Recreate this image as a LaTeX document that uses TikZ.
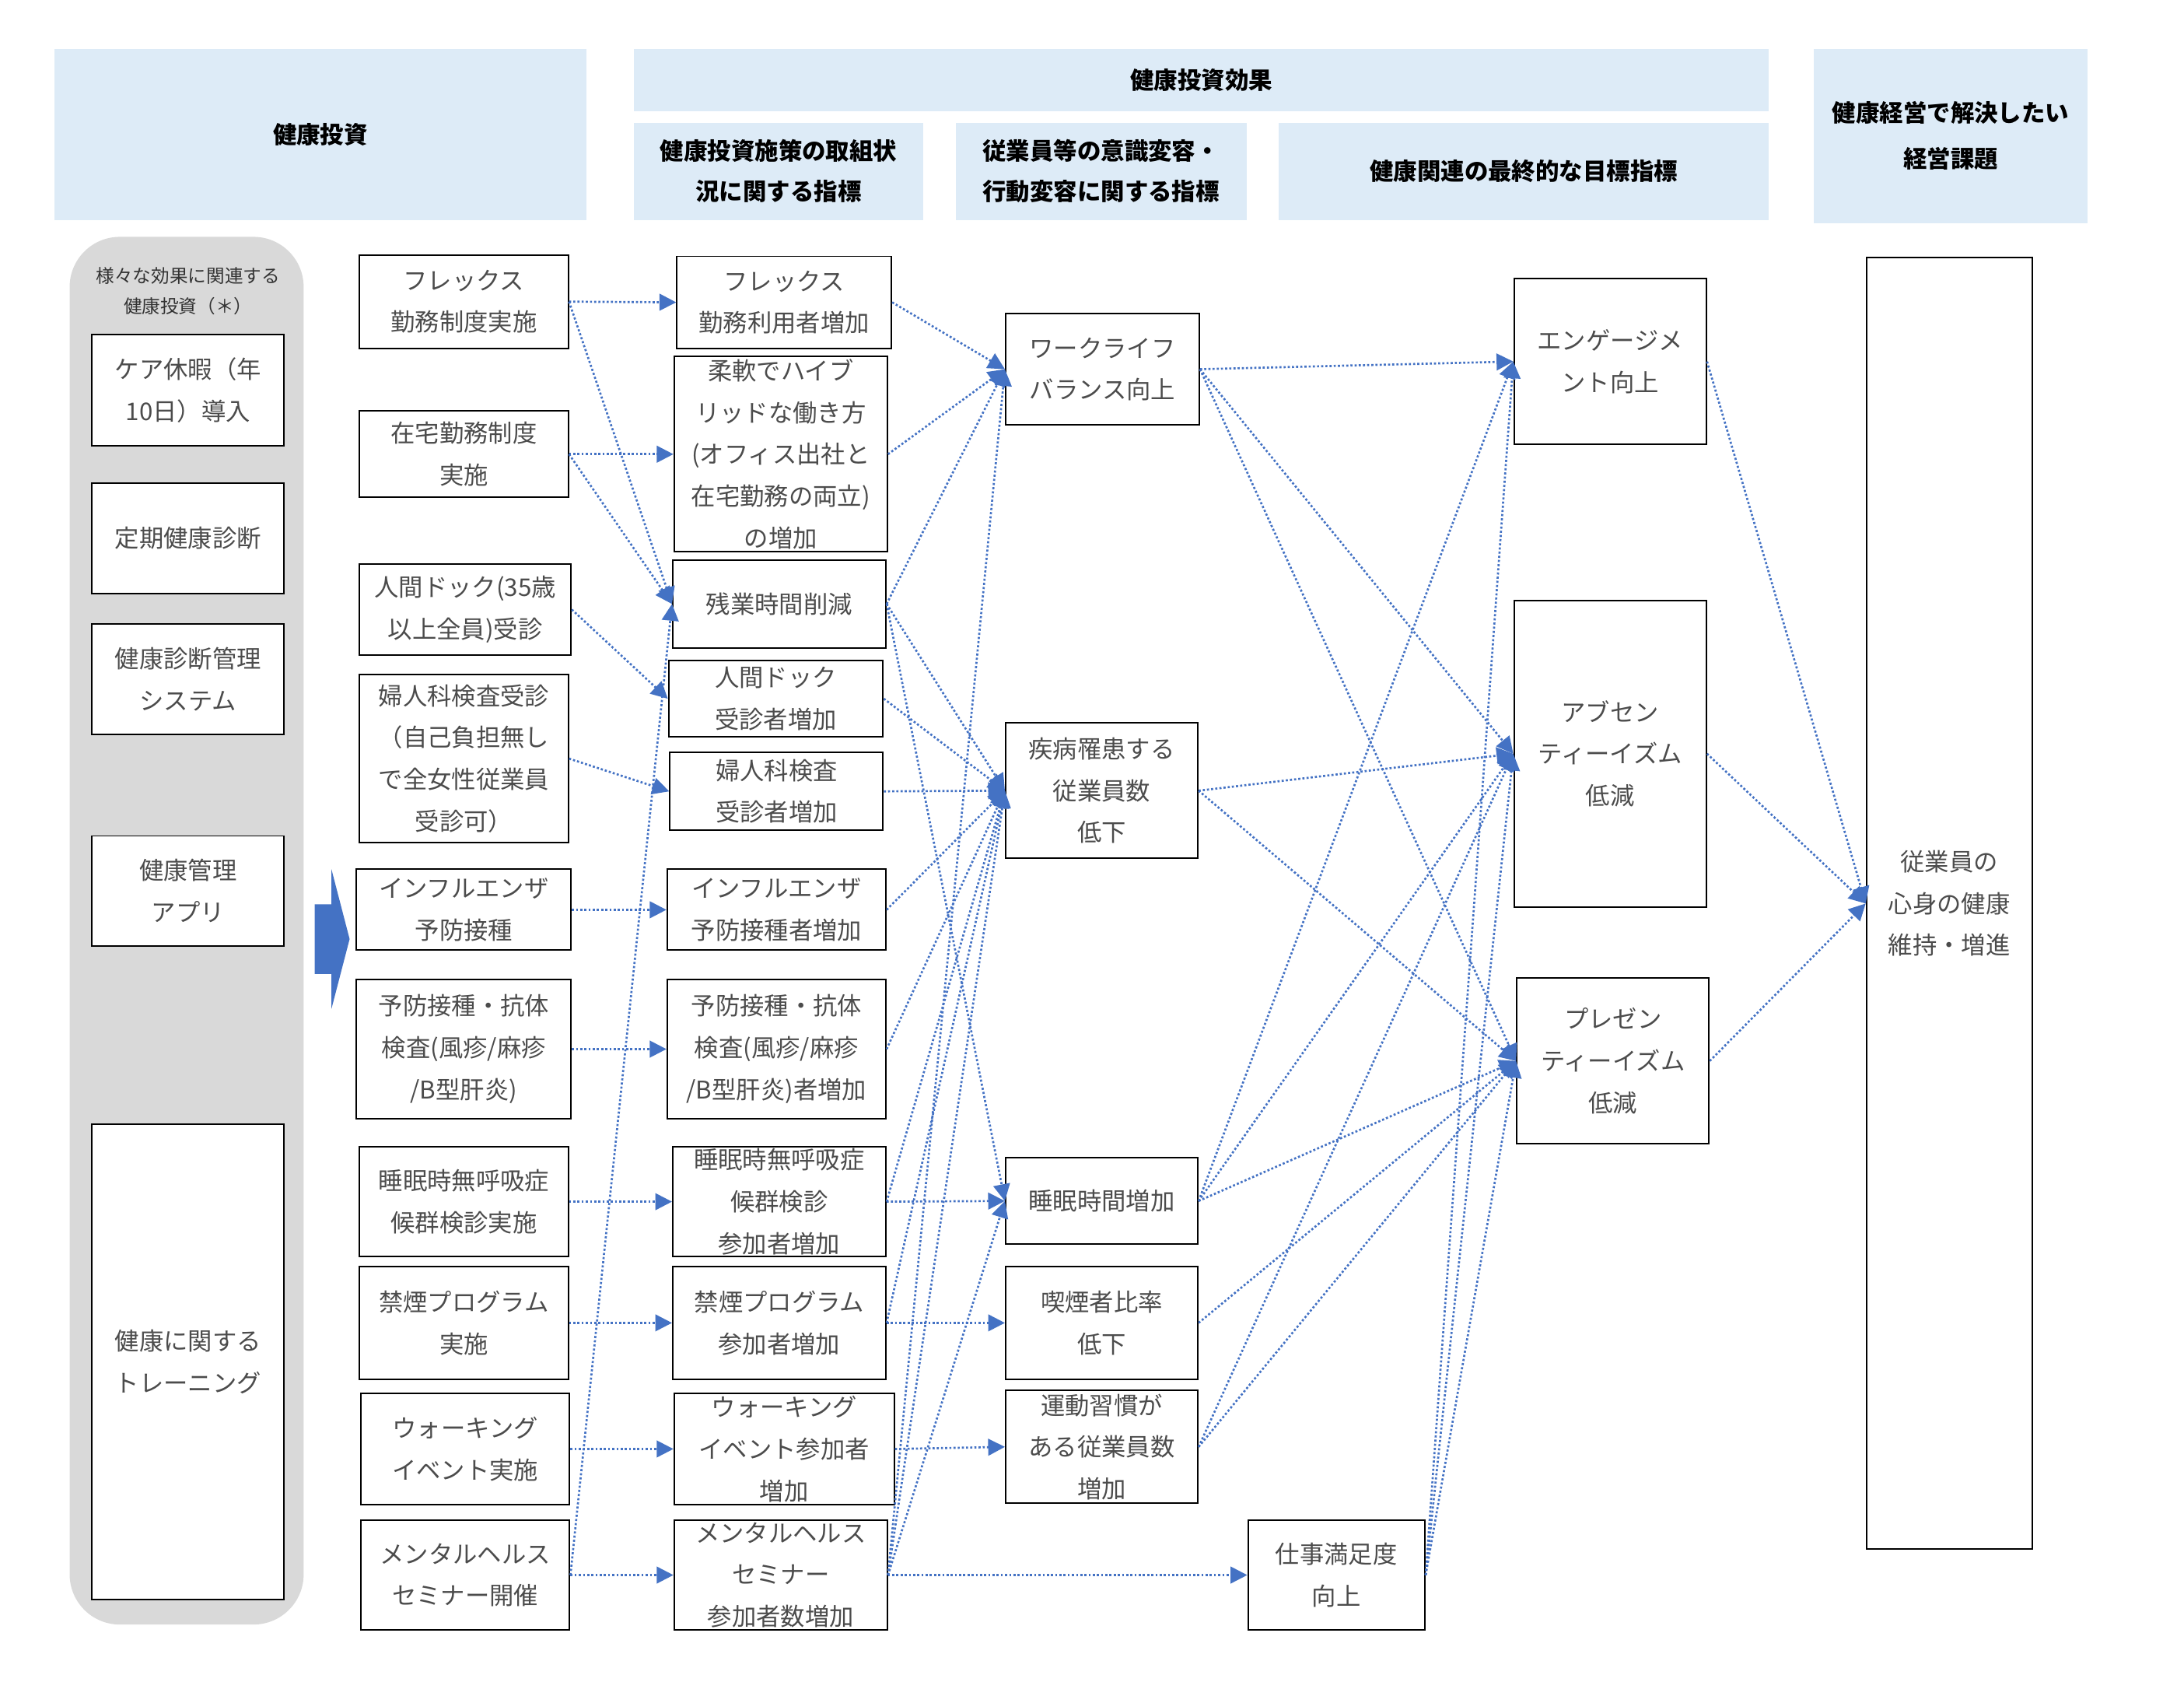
\documentclass[tikz,border=0pt]{standalone}
\usepackage{fontspec}
\setmainfont{Noto Sans CJK JP}
\usetikzlibrary{arrows.meta}
\definecolor{hdr}{HTML}{DDEBF7}
\definecolor{panel}{HTML}{D9D9D9}
\definecolor{lnk}{HTML}{4472C4}
\newcommand{\boxnode}[6]{\node[bx, minimum width=#4pt, minimum height=#5pt] (#1) at (#2,#3) {#6};}
\newcommand{\hdrnode}[6]{\node[hd, minimum width=#4pt, minimum height=#5pt] (#1) at (#2,#3) {#6};}
\tikzset{
  bx/.style={draw=black, line width=1.1pt, fill=white, align=center, inner sep=0pt,
    text=black!70, font=\fontsize{17.5}{30}\selectfont},
  hd/.style={fill=hdr, align=center, inner sep=0pt, text=black,
    font=\fontsize{17}{29}\selectfont\bfseries},
  conn/.style={draw=lnk, line width=1.5pt, dash pattern=on 1.5pt off 1.5pt,
    -{Triangle[length=12pt,width=12pt,fill=lnk]}}
}
\begin{document}
\begin{tikzpicture}[x=1pt,y=-1pt]
\useasboundingbox (0,0) rectangle (1568,1207);
\fill[white] (0,0) rectangle (1568,1207);
% headers
\hdrnode{h1}{230}{96.5}{382}{123}{健康投資}
\hdrnode{h2}{862.5}{57.5}{815}{45}{健康投資効果}
\hdrnode{h3}{559}{123}{208}{70}{健康投資施策の取組状\\況に関する指標}
\hdrnode{h4}{790.5}{123}{209}{70}{従業員等の意識変容・\\行動変容に関する指標}
\hdrnode{h5}{1094}{123}{352}{70}{健康関連の最終的な目標指標}
\node[hd, minimum width=197pt, minimum height=125pt, font=\fontsize{17}{33}\selectfont\bfseries] (h6) at (1400.5,97.5) {健康経営で解決したい\\経営課題};
% grey panel
\node[fill=panel, rounded corners=36pt, minimum width=168pt, minimum height=996pt, inner sep=0pt] (panel) at (134,668) {};
\node[align=center, inner sep=0pt, text=black!80, font=\fontsize{13.2}{22}\selectfont] (ptext) at (135,209) {様々な効果に関連する\\健康投資（＊）};
% left column
\boxnode{l1}{135}{280}{138}{80}{ケア休暇（年\\10日）導入}
\boxnode{l2}{135}{386.5}{138}{79}{定期健康診断}
\boxnode{l3}{135}{487.5}{138}{79}{健康診断管理\\システム}
\boxnode{l4}{135}{639.5}{138}{79}{健康管理\\アプリ}
\boxnode{l5}{135}{977.5}{138}{341}{健康に関する\\トレーニング}
% big arrow
\fill[lnk] (226,649) -- (238,649) -- (238,624) -- (251,674) -- (238,724) -- (238,699) -- (226,699) -- cycle;
% column 2
\boxnode{c2a}{333}{216.5}{150}{67}{フレックス\\勤務制度実施}
\boxnode{c2b}{333}{326}{150}{62}{在宅勤務制度\\実施}
\boxnode{c2c}{334}{437.5}{152}{65}{人間ドック(35歳\\以上全員)受診}
\boxnode{c2d}{333}{544.5}{150}{121}{婦人科検査受診\\（自己負担無し\\で全女性従業員\\受診可）}
\boxnode{c2e}{333}{653}{154}{58}{インフルエンザ\\予防接種}
\boxnode{c2f}{333}{753}{154}{100}{予防接種・抗体\\検査(風疹/麻疹\\/B型肝炎)}
\boxnode{c2g}{333}{862.5}{150}{79}{睡眠時無呼吸症\\候群検診実施}
\boxnode{c2h}{333}{949.5}{150}{81}{禁煙プログラム\\実施}
\boxnode{c2i}{334}{1040}{150}{80}{ウォーキング\\イベント実施}
\boxnode{c2j}{334}{1130.5}{150}{79}{メンタルヘルス\\セミナー開催}
% column 3
\boxnode{c3a}{563}{217}{154}{66}{フレックス\\勤務利用者増加}
\boxnode{c3b}{560.5}{326}{153}{140}{柔軟でハイブ\\リッドな働き方\\(オフィス出社と\\在宅勤務の両立)\\の増加}
\boxnode{c3c}{559.5}{433.5}{153}{63}{残業時間削減}
\boxnode{c3d}{557}{501.5}{154}{55}{人間ドック\\受診者増加}
\boxnode{c3e}{557.5}{568}{153}{56}{婦人科検査\\受診者増加}
\boxnode{c3f}{557.5}{653}{157}{58}{インフルエンザ\\予防接種者増加}
\boxnode{c3g}{557.5}{753}{157}{100}{予防接種・抗体\\検査(風疹/麻疹\\/B型肝炎)者増加}
\boxnode{c3h}{559.5}{862.5}{153}{79}{睡眠時無呼吸症\\候群検診\\参加者増加}
\boxnode{c3i}{559.5}{949.5}{153}{81}{禁煙プログラム\\参加者増加}
\boxnode{c3j}{563}{1040}{158}{80}{ウォーキング\\イベント参加者\\増加}
\boxnode{c3k}{560.5}{1130.5}{153}{79}{メンタルヘルス\\セミナー\\参加者数増加}
% column 4
\boxnode{c4a}{791.5}{265}{139}{80}{ワークライフ\\バランス向上}
\boxnode{c4b}{791}{567.5}{138}{97}{疾病罹患する\\従業員数\\低下}
\boxnode{c4c}{791}{862}{138}{62}{睡眠時間増加}
\boxnode{c4d}{791}{949.5}{138}{81}{喫煙者比率\\低下}
\boxnode{c4e}{791}{1038.5}{138}{81}{運動習慣が\\ある従業員数\\増加}
\boxnode{c4f}{959.5}{1130.5}{127}{79}{仕事満足度\\向上}
% column 5
\boxnode{c5a}{1156}{259.5}{138}{119}{エンゲージメ\\ント向上}
\boxnode{c5b}{1156}{541}{138}{220}{アブセン\\ティーイズム\\低減}
\boxnode{c5c}{1158}{761.5}{138}{119}{プレゼン\\ティーイズム\\低減}
% column 6
\boxnode{c6}{1399.5}{648.5}{119}{927}{従業員の\\心身の健康\\維持・増進}
% connectors col2 -> col3
\draw[conn] (c2a.east) -- (c3a.west);
\draw[conn] (c2a.east) -- (c3c.west);
\draw[conn] (c2b.east) -- (c3b.west);
\draw[conn] (c2b.east) -- (c3c.west);
\draw[conn] (c2c.east) -- (c3d.west);
\draw[conn] (c2d.east) -- (c3e.west);
\draw[conn] (c2e.east) -- (c3f.west);
\draw[conn] (c2f.east) -- (c3g.west);
\draw[conn] (c2g.east) -- (c3h.west);
\draw[conn] (c2h.east) -- (c3i.west);
\draw[conn] (c2i.east) -- (c3j.west);
\draw[conn] (c2j.east) -- (c3k.west);
\draw[conn] (c2j.east) -- (c3c.west);
% col3 -> col4
\draw[conn] (c3a.east) -- (c4a.west);
\draw[conn] (c3b.east) -- (c4a.west);
\draw[conn] (c3c.east) -- (c4a.west);
\draw[conn] (c3c.east) -- (c4b.west);
\draw[conn] (c3c.east) -- (c4c.west);
\draw[conn] (c3d.east) -- (c4b.west);
\draw[conn] (c3e.east) -- (c4b.west);
\draw[conn] (c3f.east) -- (c4b.west);
\draw[conn] (c3g.east) -- (c4b.west);
\draw[conn] (c3h.east) -- (c4c.west);
\draw[conn] (c3h.east) -- (c4b.west);
\draw[conn] (c3i.east) -- (c4d.west);
\draw[conn] (c3i.east) -- (c4b.west);
\draw[conn] (c3j.east) -- (c4e.west);
\draw[conn] (c3k.east) -- (c4f.west);
\draw[conn] (c3k.east) -- (c4a.west);
\draw[conn] (c3k.east) -- (c4b.west);
\draw[conn] (c3k.east) -- (c4c.west);
% col4 -> col5
\draw[conn] (c4a.east) -- (c5a.west);
\draw[conn] (c4a.east) -- (c5b.west);
\draw[conn] (c4a.east) -- (c5c.west);
\draw[conn] (c4b.east) -- (c5b.west);
\draw[conn] (c4b.east) -- (c5c.west);
\draw[conn] (c4c.east) -- (c5a.west);
\draw[conn] (c4c.east) -- (c5b.west);
\draw[conn] (c4c.east) -- (c5c.west);
\draw[conn] (c4d.east) -- (c5c.west);
\draw[conn] (c4e.east) -- (c5b.west);
\draw[conn] (c4e.east) -- (c5c.west);
\draw[conn] (c4f.east) -- (c5a.west);
\draw[conn] (c4f.east) -- (c5b.west);
\draw[conn] (c4f.east) -- (c5c.west);
% col5 -> col6
\draw[conn] (c5a.east) -- (c6.west);
\draw[conn] (c5b.east) -- (c6.west);
\draw[conn] (c5c.east) -- (c6.west);
\end{tikzpicture}
\end{document}
